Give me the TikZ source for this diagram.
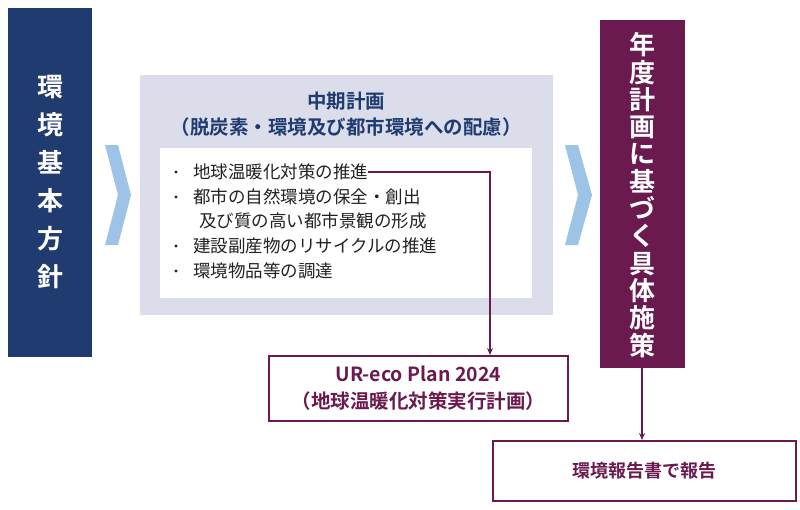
\documentclass[tikz,border=0pt]{standalone}
\usepackage{fontspec}
\setmainfont{Noto Sans CJK JP}
\newfontfamily\jpb{Noto Sans CJK JP Bold}
\usetikzlibrary{arrows.meta}
\definecolor{navy}{HTML}{1F3B70}
\definecolor{plum}{HTML}{6B1A50}
\definecolor{lav}{HTML}{DCDDEA}
\definecolor{chev}{HTML}{9DC3E6}
\definecolor{txt}{HTML}{222222}
\tikzset{
  vtext/.style={text=white,font=\jpb\fontsize{26}{#1}\selectfont,align=center,inner sep=0pt},
  outbox/.style={draw=plum,line width=1.6pt,fill=white},
  item/.style={anchor=west,font=\fontsize{17.5}{19}\selectfont,text=txt,inner sep=0pt},
  conn/.style={plum,line width=1.5pt,-{Stealth[length=7pt,width=6pt]}}
}
\begin{document}
\begin{tikzpicture}[x=1pt,y=-1pt]
\useasboundingbox (0,0) rectangle (800,509);
\fill[navy] (8,8) rectangle (92,357);
\node[vtext=38] (left) at (50,182) {環\\境\\基\\本\\方\\針};
\fill[chev] (105,145) -- (118,145) -- (131,195) -- (118,245) -- (105,245) -- (118,195) -- cycle;
\fill[chev] (565,145) -- (578,145) -- (592,195) -- (578,245) -- (565,245) -- (578,195) -- cycle;
\fill[lav] (140,75) rectangle (553,315);
\node[font=\jpb\fontsize{19.5}{26}\selectfont,text=navy,align=center] (title) at (346,114) {中期計画\\（脱炭素・環境及び都市環境への配慮）};
\fill[white] (160,148) rectangle (532,298);
\node[item] (b1) at (193,172) {地球温暖化対策の推進};
\node[item] (b2) at (193,197) {都市の自然環境の保全・創出};
\node[item] (b2b) at (199,221) {及び質の高い都市景観の形成};
\node[item] (b3) at (193,246) {建設副産物のリサイクルの推進};
\node[item] (b4) at (193,271) {環境物品等の調達};
\foreach \y in {172,197,246,271} \fill[txt] (176,\y) circle (1.6pt);
\fill[plum] (600,20) rectangle (685,368);
\node[vtext=27.3] (right) at (642,195) {年\\度\\計\\画\\に\\基\\づ\\く\\具\\体\\施\\策};
\node[outbox,minimum width=299pt,minimum height=65pt,anchor=north west] (ur) at (268,355) {};
\node[font=\jpb\fontsize{19.5}{27}\selectfont,text=plum,align=center] at (ur.center) {UR-eco Plan 2024\\（地球温暖化対策実行計画）};
\node[outbox,minimum width=303pt,minimum height=60pt,anchor=north west,font=\jpb\fontsize{18}{20}\selectfont,text=plum] (rep) at (492,440) {環境報告書で報告};
\coordinate (c1) at (490,172);
\draw[conn] (b1.east) -- (c1) -- (c1 |- ur.north);
\draw[conn] (642,368) -- (642,440);
\end{tikzpicture}
\end{document}
